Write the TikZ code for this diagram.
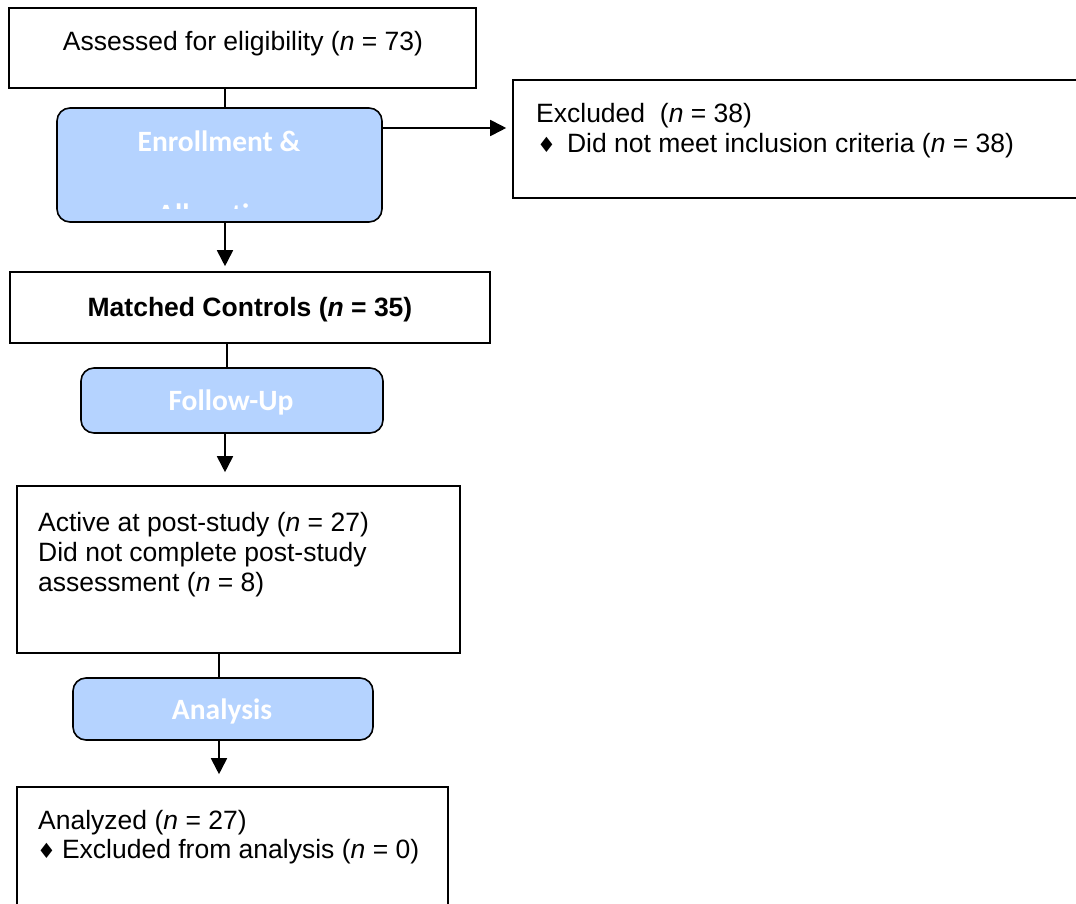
\documentclass[tikz,border=0pt]{standalone}
\usepackage{fontspec}
\setmainfont{Liberation Sans}
\newfontfamily\phasefont{Carlito}
\newfontfamily\bulletfont{DejaVu Sans}
\usepackage{tikz}
\usetikzlibrary{arrows.meta, positioning, calc}
\definecolor{phaseblue}{RGB}{181,211,255}
\tikzset{font=\fontsize{26.5}{30}\selectfont}
\tikzset{plainbox/.style={rectangle, draw=black, line width=1.6pt, fill=white, inner sep=0pt}}
\tikzset{phasebox/.style={rectangle, rounded corners=13pt, draw=black, line width=1.6pt, fill=phaseblue, inner sep=0pt}}
\tikzset{phasetext/.style={text=white, inner sep=0pt, font=\phasefont\bfseries\fontsize{29.5}{30}\selectfont}}
\tikzset{line/.style={inner sep=0pt, anchor=base west}}
\tikzset{flow/.style={draw=black, line width=1.8pt}}
\tikzset{flowarrow/.style={flow, -{Triangle[length=16pt, width=16pt]}}}
\newcommand{\dia}{{\bulletfont\fontsize{21}{21}\selectfont ♦}}

\begin{document}
\begin{tikzpicture}[x=1pt, y=-1pt]
  \useasboundingbox (0,0) rectangle (1076,904);
  % Boxes
  \node[plainbox, minimum width=467pt, minimum height=80pt] (assessed) at (242.5,48) {};
  \node[phasebox, minimum width=325pt, minimum height=114pt] (enrol) at (219.5,165) {};
  \node[plainbox, minimum width=600pt, minimum height=118pt] (excluded) at (813,139) {};
  \node[plainbox, minimum width=480pt, minimum height=71pt] (matched) at (250,307.5) {};
  \node[phasebox, minimum width=302pt, minimum height=65pt] (followup) at (232,400.5) {};
  \node[plainbox, minimum width=443pt, minimum height=167pt] (active) at (238.5,569.5) {};
  \node[phasebox, minimum width=300pt, minimum height=62pt] (analysis) at (223,709) {};
  \node[plainbox, minimum width=431pt, minimum height=150pt] (analyzed) at (232.5,862) {};

  % Texts
  \node[inner sep=0pt, anchor=base] (assessedtxt) at (243,51) {Assessed for eligibility (\textit{n} = 73)};
  \node[line] (excl1) at (536,123) {Excluded~ (\textit{n} = 38)};
  \node[line] (excl2) at (537,153) {\dia\hspace{11pt}Did not meet inclusion criteria (\textit{n} = 38)};
  \node[inner sep=0pt, anchor=base] (matchedtxt) at (250,316) {\bfseries Matched Controls (\textit{n} = 35)};
  \node[line] (act1) at (38,531) {Active at post-study (\textit{n} = 27)};
  \node[line] (act2) at (38,561) {Did not complete post-study};
  \node[line] (act3) at (38,591) {assessment (\textit{n} = 8)};
  \node[line] (ana1) at (38,829) {Analyzed (\textit{n} = 27)};
  \node[line] (ana2) at (37,858) {\dia\hspace{6pt}Excluded from analysis (\textit{n} = 0)};

  % Phase labels
  \begin{scope}
    \clip (57,108) rectangle (382,209);
    \node[phasetext, anchor=base] (enroltxt) at (219,152) {Enrollment \&};
    \node[phasetext, anchor=base] (alloctxt) at (219,225) {Allocation};
  \end{scope}
  \node[phasetext, anchor=base] (followtxt) at (231,410) {Follow-Up};
  \node[phasetext, anchor=base] (analysistxt) at (222,719) {Analysis};

  % Connectors
  \coordinate (s1) at (225,0);
  \coordinate (s2) at (227,0);
  \coordinate (s3) at (219,0);
  \coordinate (brk) at (0,128);
  \draw[flow] (s1 |- assessed.south) -- (s1 |- enrol.north);
  \draw[flowarrow, shorten >=5pt] (s1 |- enrol.south) -- (s1 |- matched.north);
  \draw[flowarrow, shorten >=6pt] (enrol.east |- brk) -- (excluded.west |- brk);
  \draw[flow] (s2 |- matched.south) -- (s2 |- followup.north);
  \draw[flowarrow, shorten >=13pt] (s1 |- followup.south) -- (s1 |- active.north);
  \draw[flow] (s3 |- active.south) -- (s3 |- analysis.north);
  \draw[flowarrow, shorten >=12pt] (s3 |- analysis.south) -- (s3 |- analyzed.north);
\end{tikzpicture}
\end{document}
